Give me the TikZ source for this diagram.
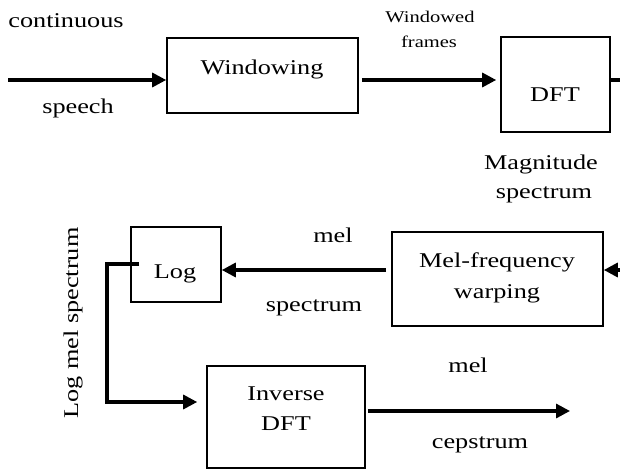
\documentclass[tikz,border=0pt]{standalone}
\usepackage{fontspec}
\setmainfont{Liberation Serif}
\usetikzlibrary{arrows.meta}
\newcommand\sx[1]{\scalebox{1.25}[1]{#1}}
\tikzset{
  blk/.style={draw, line width=1.6pt, inner sep=0pt, minimum width=#1},
  lbl/.style={inner sep=0pt, anchor=base, font=\fontsize{21}{24}\selectfont},
  small/.style={inner sep=0pt, anchor=base, font=\fontsize{16.4}{19}\selectfont},
  arr/.style={line width=3.2pt, -{Triangle[length=14pt,width=14pt]}},
  wire/.style={line width=3.2pt}
}
\begin{document}
\begin{tikzpicture}[x=1pt,y=-1pt]
\useasboundingbox (0,0) rectangle (620,470);
% boxes
\node[blk=191pt, minimum height=75pt] (win) at (262.5,75.5) {};
\node[blk=109pt, minimum height=95pt] (dft) at (555.5,84.5) {};
\node[blk=211pt, minimum height=94pt] (mel) at (497.5,279) {};
\node[blk=90pt, minimum height=75pt] (log) at (176,264.5) {};
\node[blk=158pt, minimum height=102pt] (idft) at (286,417) {};
% box texts
\node[lbl] (twin) at (262,75) {\sx{Windowing}};
\node[lbl] (tdft) at (555,102) {\sx{DFT}};
\node[lbl] (tmel1) at (497,267) {\sx{Mel-frequency}};
\node[lbl] (tmel2) at (497,298) {\sx{warping}};
\node[lbl] (tlog) at (175,278) {\sx{Log}};
\node[lbl] (tinv1) at (286,400) {\sx{Inverse}};
\node[lbl] (tinv2) at (286,430) {\sx{DFT}};
% edge labels
\node[lbl] (lcont) at (66,28) {\sx{continuous}};
\node[lbl] (lspeech) at (78,114) {\sx{speech}};
\node[small] (lwin1) at (430,23) {\sx{Windowed}};
\node[small] (lwin2) at (429,48) {\sx{frames}};
\node[lbl] (lmag1) at (541,170) {\sx{Magnitude}};
\node[lbl] (lmag2) at (544,199) {\sx{spectrum}};
\node[lbl] (lmel) at (333,242) {\sx{mel}};
\node[lbl] (lspec) at (314,311) {\sx{spectrum}};
\node[lbl] (lmel2) at (468,372) {\sx{mel}};
\node[lbl] (lcep) at (480,448) {\sx{cepstrum}};
\node[inner sep=0pt, rotate=90, font=\fontsize{21}{24}\selectfont] (llog) at (73,323) {\sx{Log mel spectrum}};
% coordinates
\coordinate (in) at (8,80);
\coordinate (dftout) at (620,80);
\coordinate (melin) at (620,270);
\coordinate (logtap) at (139,264);
\coordinate (corner) at (107,402);
\coordinate (out) at (570,411);
% connectors
\draw[arr] (in) -- (in -| win.west);
\draw[arr] ([xshift=3pt]win.east |- in) -- ([xshift=-4pt]dft.west |- in);
\draw[wire] (dft.east |- dftout) -- (dftout);
\draw[arr] (melin) -- (mel.east |- melin);
\draw[arr] ([xshift=-5pt]mel.west |- melin) -- (log.east |- melin);
\draw[arr] (logtap) -| (corner) -- ([xshift=-9pt]idft.west |- corner);
\draw[arr] ([xshift=2pt]idft.east |- out) -- (out);
\end{tikzpicture}
\end{document}
